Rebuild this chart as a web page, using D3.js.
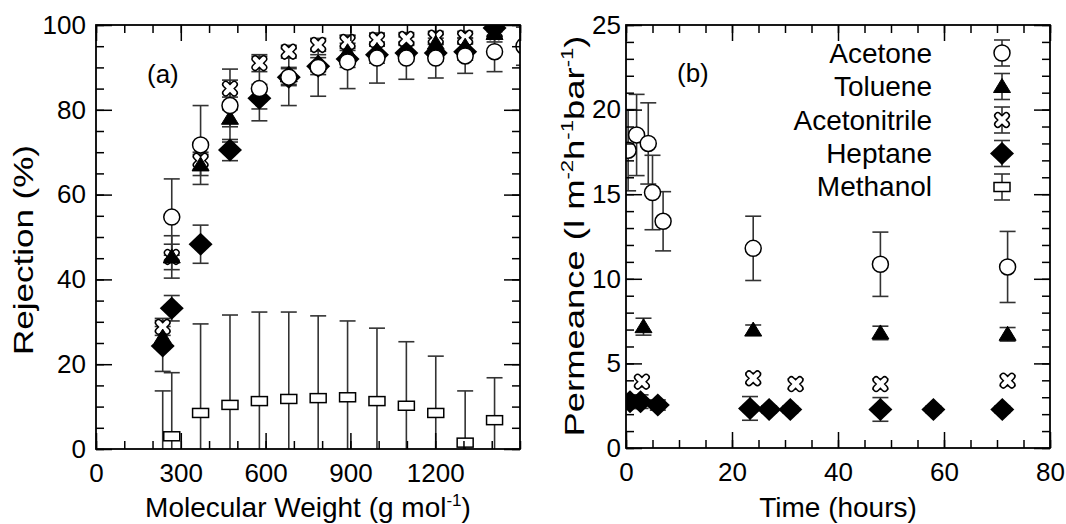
<!DOCTYPE html>
<html><head><meta charset="utf-8">
<script src="https://cdn.jsdelivr.net/npm/d3@7"></script>
<style>body{margin:0;background:#fff}svg{display:block}text{font-family:"Liberation Sans",Arial,sans-serif;fill:#000}</style>
</head><body><svg id="c" width="1066" height="524"></svg>
<script>
// ---------- DATA ----------
// Panel (a): rejection vs molecular weight
const mw = [236, 268, 370, 474, 578, 682, 786, 890, 994, 1098, 1202, 1306, 1410, 1514];
const rejAcetone      = [null, 54.7, 71.7, 81.0, 85.0, 87.7, 90.0, 91.3, 92.2, 92.2, 92.2, 92.7, 93.7, 95.0];
const rejAcetoneErr   = [null, 9.0, 9.3, 8.6, 7.6, 6.7, 6.8, 6.3, 5.9, 5.0, 4.7, 4.1, 4.7, 4.5];
const rejToluene      = [26.4, 45.3, 67.0, 78.0, 84.0, 88.0, 91.0, 93.7, 94.0, 94.0, 95.7, 95.0, 98.0, null];
const rejTolueneErr   = [2.5, 5.0, 2.5, 2.0, 2.0, 2.0, 2.0, 2.0, 2.0, 2.0, 2.0, 2.0, 2.0, null];
const rejAcetonitrile    = [28.8, 45.3, 68.0, 85.0, 91.0, 93.7, 95.3, 96.0, 96.5, 96.7, 97.0, 97.0, 98.3, null];
const rejAcetonitrileErr = [2.0, 3.0, 2.0, 2.0, 2.0, 1.5, 1.5, 1.5, 1.5, 1.5, 1.5, 1.5, 1.5, null];
const rejHeptane      = [24.3, 33.2, 48.3, 70.5, 82.7, 87.7, 90.3, 92.0, 93.0, 93.4, 93.4, 93.7, 99.3, null];
const rejHeptaneErr   = [6.0, 3.0, 4.5, 2.5, 2.5, 2.0, 2.0, 2.0, 2.0, 2.0, 2.0, 2.0, 2.0, null];
const rejMethanol     = [-2.0, 3.0, 8.5, 10.4, 11.3, 11.8, 12.0, 12.2, 11.3, 10.2, 8.5, 1.5, 6.8, null];
const rejMethanolErr  = [15.7, 15.0, 21.0, 21.2, 21.0, 20.5, 19.4, 18.0, 17.2, 15.1, 13.4, 12.2, 10.0, null];

// Panel (b): permeance vs time
const tAcetone = [0.4, 2, 4.2, 5, 7, 24, 48, 72];
const pAcetone = [17.6, 18.5, 18.0, 15.1, 13.4, 11.8, 10.86, 10.7];
const pAcetoneErr = [2.4, 2.4, 2.4, 2.2, 1.75, 1.9, 1.9, 2.1];
const tToluene = [3.3, 24, 48, 72];
const pToluene = [7.17, 6.97, 6.8, 6.72];
const pTolueneErr = [0.5, 0.3, 0.4, 0.4];
const tAcetonitrile = [3, 24, 32, 48, 72];
const pAcetonitrile = [3.92, 4.12, 3.78, 3.78, 3.98];
const pAcetonitrileErr = [0.3, 0.3, 0.3, 0.3, 0.3];
const tHeptane = [0.75, 2.75, 6, 23.4, 27, 31, 48, 58, 71];
const pHeptane = [2.74, 2.74, 2.54, 2.34, 2.28, 2.28, 2.28, 2.28, 2.28];
const pHeptaneErr = [0.4, 0.4, 0.3, 0.7, 0.2, 0.2, 0.7, 0.2, 0.2];

const legendNames = ["Acetone", "Toluene", "Acetonitrile", "Heptane", "Methanol"];
const ticksA_x = [0, 300, 600, 900, 1200];
const ticksA_y = [0, 20, 40, 60, 80, 100];
const ticksB_x = [0, 20, 40, 60, 80];
const ticksB_y = [0, 5, 10, 15, 20, 25];

// ---------- SYMBOLS ----------
function crossPath(a, L) {
  return `M${-a},${-a}L${-a},${-L}A${a},${a} 0 0 1 ${a},${-L}L${a},${-a}L${L},${-a}A${a},${a} 0 0 1 ${L},${a}L${a},${a}L${a},${L}A${a},${a} 0 0 1 ${-a},${L}L${-a},${a}L${-L},${a}A${a},${a} 0 0 1 ${-L},${-a}Z`;
}
const symbols = {
  Acetone: g => g.append("circle").attr("r", 8).attr("fill", "#fff").attr("stroke", "#000").attr("stroke-width", 1.5),
  Toluene: g => g.append("path").attr("d", "M0,-8L8.5,6L-8.5,6Z").attr("fill", "#000").attr("stroke", "#000").attr("stroke-width", 1),
  Acetonitrile: g => g.append("path").attr("d", crossPath(3, 6)).attr("transform", "rotate(45)").attr("fill", "#fff").attr("stroke", "#000").attr("stroke-width", 1.5),
  Heptane: g => g.append("path").attr("d", "M0,-11.5L12,0L0,11.5L-12,0Z").attr("fill", "#000"),
  Methanol: g => g.append("rect").attr("x", -8).attr("y", -4.5).attr("width", 16).attr("height", 9).attr("fill", "#fff").attr("stroke", "#000").attr("stroke-width", 1.5)
};

const svg = d3.select("#c");
const defs = svg.append("defs");

function panel(opts) {
  const { x, y, id } = opts;
  const [x0, x1] = x.range(), [y0, y1] = y.range();
  defs.append("clipPath").attr("id", id).append("rect")
    .attr("x", x0).attr("y", y1).attr("width", x1 - x0).attr("height", y0 - y1);
  const plot = svg.append("g").attr("clip-path", `url(#${id})`);

  // error bars first
  const eb = plot.append("g").attr("stroke", "#333").attr("stroke-width", 1.6).attr("fill", "none");
  opts.series.forEach(s => {
    s.xs.forEach((xv, i) => {
      const v = s.ys[i], e = s.err[i];
      if (v == null || e == null) return;
      const cx = x(xv), ya = y(v + e), yb = y(v - e);
      eb.append("line").attr("x1", cx).attr("x2", cx).attr("y1", ya).attr("y2", yb);
      eb.append("line").attr("x1", cx - 8).attr("x2", cx + 8).attr("y1", ya).attr("y2", ya);
      eb.append("line").attr("x1", cx - 8).attr("x2", cx + 8).attr("y1", yb).attr("y2", yb);
    });
  });
  // markers
  opts.series.forEach(s => {
    s.xs.forEach((xv, i) => {
      const v = s.ys[i];
      if (v == null) return;
      const g = plot.append("g").attr("transform", `translate(${x(xv)},${y(v)})`);
      symbols[s.name](g);
    });
  });

  // axes
  const ax = svg.append("g");
  function styl(g) {
    g.select(".domain").remove();
    g.selectAll(".tick line").attr("stroke", "#000").attr("stroke-width", 1.5);
    g.selectAll("text").attr("font-size", 26).attr("fill", "#000")
      .style("font-family", '"Liberation Sans", Arial, sans-serif');
  }
  ax.append("g").attr("transform", `translate(0,${y0})`)
    .call(d3.axisBottom(x).tickValues(opts.xMinor).tickSize(-8).tickSizeOuter(0).tickFormat("")).call(styl);
  ax.append("g").attr("transform", `translate(0,${y0})`)
    .call(d3.axisBottom(x).tickValues(opts.xMajor).tickSize(-16).tickSizeOuter(0).tickPadding(15).tickFormat(d3.format("d"))).call(styl);
  ax.append("g").attr("transform", `translate(0,${y1})`)
    .call(d3.axisTop(x).tickValues(opts.xMinor).tickSize(-8).tickSizeOuter(0).tickFormat("")).call(styl);
  ax.append("g").attr("transform", `translate(0,${y1})`)
    .call(d3.axisTop(x).tickValues(opts.xMajorAll).tickSize(-16).tickSizeOuter(0).tickFormat("")).call(styl);
  ax.append("g").attr("transform", `translate(${x0},0)`)
    .call(d3.axisLeft(y).tickValues(opts.yMinor).tickSize(-8).tickSizeOuter(0).tickFormat("")).call(styl);
  ax.append("g").attr("transform", `translate(${x0},0)`)
    .call(d3.axisLeft(y).tickValues(opts.yMajor).tickSize(-16).tickSizeOuter(0).tickPadding(opts.yPad).tickFormat(d3.format("d"))).call(styl);
  ax.append("g").attr("transform", `translate(${x1},0)`)
    .call(d3.axisRight(y).tickValues(opts.yMinor).tickSize(-8).tickSizeOuter(0).tickFormat("")).call(styl);
  ax.append("g").attr("transform", `translate(${x1},0)`)
    .call(d3.axisRight(y).tickValues(opts.yMajor).tickSize(-16).tickSizeOuter(0).tickFormat("")).call(styl);
  ax.append("rect").attr("x", x0).attr("y", y1).attr("width", x1 - x0).attr("height", y0 - y1)
    .attr("fill", "none").attr("stroke", "#000").attr("stroke-width", 1.8);
}

const xA = d3.scaleLinear([0, 1500], [96, 520]);
const yA = d3.scaleLinear([0, 100], [449, 25]);
const xB = d3.scaleLinear([0, 80], [626, 1050]);
const yB = d3.scaleLinear([0, 25], [448, 25]);

panel({
  id: "clipA", x: xA, y: yA,
  xMajor: ticksA_x, xMajorAll: d3.range(0, 1501, 300), xMinor: d3.range(0, 1501, 100),
  yMajor: ticksA_y, yMinor: d3.range(0, 101, 5), yPad: 10,
  series: [
    { name: "Methanol", xs: mw, ys: rejMethanol, err: rejMethanolErr },
    { name: "Acetonitrile", xs: mw, ys: rejAcetonitrile, err: rejAcetonitrileErr },
    { name: "Toluene", xs: mw, ys: rejToluene, err: rejTolueneErr },
    { name: "Heptane", xs: mw, ys: rejHeptane, err: rejHeptaneErr },
    { name: "Acetone", xs: mw, ys: rejAcetone, err: rejAcetoneErr }
  ]
});
panel({
  id: "clipB", x: xB, y: yB,
  xMajor: ticksB_x, xMajorAll: ticksB_x, xMinor: d3.range(0, 81, 5),
  yMajor: ticksB_y, yMinor: d3.range(0, 26, 1), yPad: 5,
  series: [
    { name: "Acetonitrile", xs: tAcetonitrile, ys: pAcetonitrile, err: pAcetonitrileErr },
    { name: "Toluene", xs: tToluene, ys: pToluene, err: pTolueneErr },
    { name: "Heptane", xs: tHeptane, ys: pHeptane, err: pHeptaneErr },
    { name: "Acetone", xs: tAcetone, ys: pAcetone, err: pAcetoneErr }
  ]
});

// panel labels
svg.append("text").attr("x", 147).attr("y", 83).attr("font-size", 26).text("(a)");
svg.append("text").attr("x", 677).attr("y", 82).attr("font-size", 26).text("(b)");

// axis titles
const tA = svg.append("text").attr("x", 308).attr("y", 517).attr("font-size", 28).attr("text-anchor", "middle");
tA.append("tspan").text("Molecular Weight (g mol");
tA.append("tspan").attr("font-size", 17).attr("dy", -11).text("-1");
tA.append("tspan").attr("dy", 11).text(")");

const tB = svg.append("text").attr("x", 838).attr("y", 517).attr("font-size", 28).attr("text-anchor", "middle").text("Time (hours)");

svg.append("text").attr("transform", "translate(33,250) rotate(-90) scale(1.25,1)")
  .attr("font-size", 28).attr("text-anchor", "middle").text("Rejection (%)");

const yt = svg.append("text").attr("transform", "translate(584,236) rotate(-90) scale(1.3,1)")
  .attr("font-size", 28).attr("text-anchor", "middle");
yt.append("tspan").text("Permeance (l m");
yt.append("tspan").attr("font-size", 17).attr("dy", -11).text("-2");
yt.append("tspan").attr("dy", 11).text("h");
yt.append("tspan").attr("font-size", 17).attr("dy", -11).text("-1");
yt.append("tspan").attr("dy", 11).text("bar");
yt.append("tspan").attr("font-size", 17).attr("dy", -11).text("-1");
yt.append("tspan").attr("dy", 11).text(")");

// legend
const leg = svg.append("g");
legendNames.forEach((n, i) => {
  const yBase = 63 + i * 33.3;
  const cy = 53 + i * 33.5;
  leg.append("text").attr("x", 932).attr("y", yBase).attr("font-size", 28).attr("text-anchor", "end").text(n);
  const g = leg.append("g").attr("stroke", "#333").attr("stroke-width", 1.6);
  g.append("line").attr("x1", 1002).attr("x2", 1002).attr("y1", cy - 13).attr("y2", cy + 13);
  g.append("line").attr("x1", 994).attr("x2", 1010).attr("y1", cy - 13).attr("y2", cy - 13);
  g.append("line").attr("x1", 994).attr("x2", 1010).attr("y1", cy + 13).attr("y2", cy + 13);
  const s = leg.append("g").attr("transform", `translate(1002,${cy})`);
  symbols[n](s);
});
</script></body></html>
